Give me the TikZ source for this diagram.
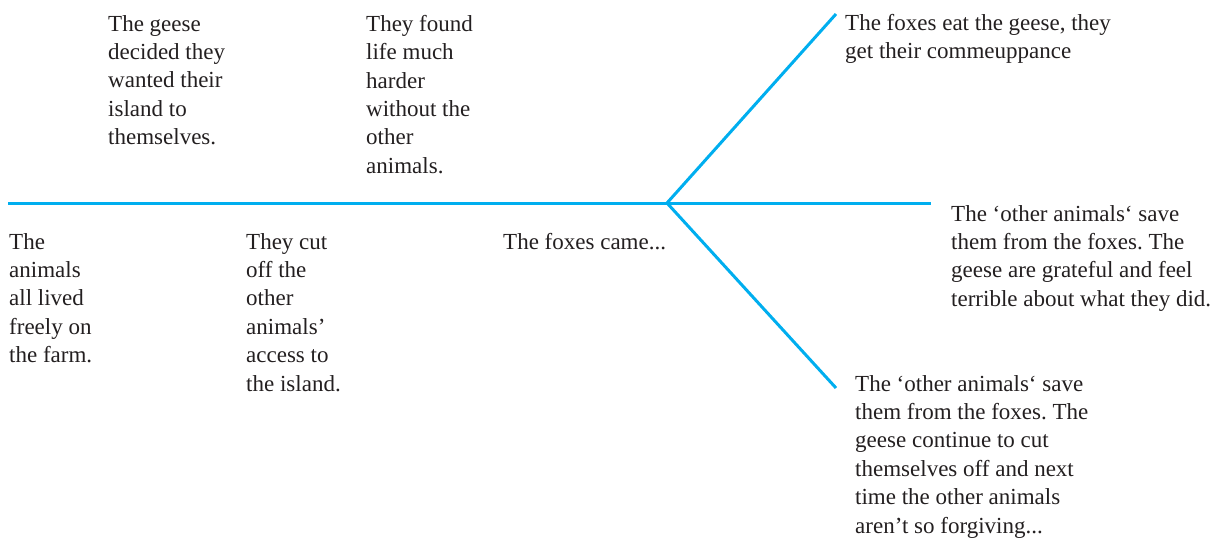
\documentclass[tikz,border=0pt]{standalone}
\usepackage{fontspec}
\setmainfont{Liberation Serif}
\frenchspacing
\usetikzlibrary{positioning}
\definecolor{Sky}{HTML}{00AEEF}
\definecolor{Ink}{HTML}{231F20}
\begin{document}
\begin{tikzpicture}[x=1pt,y=-1pt,
txt/.style={anchor=north west,inner sep=0pt,align=left,text=Ink,font=\fontsize{23}{28.4}\selectfont},
bone/.style={draw=Sky,line width=3pt}]
\useasboundingbox (0,0) rectangle (1224,546);
\coordinate (start) at (8,203);
\coordinate (fork) at (667,203);
\coordinate (topend) at (836,14);
\coordinate (midend) at (931,203);
\coordinate (lowend) at (836,388);
\draw[bone] (start)--(fork);
\draw[bone] (fork)--(topend);
\draw[bone] (fork)--(midend);
\draw[bone] (fork)--(lowend);
\node[txt] (geese) at (108,15) {The geese\\decided they\\wanted their\\island to\\themselves.};
\node[txt] (harder) at (366,15) {They found\\life much\\harder\\without the\\other\\animals.};
\node[txt] (farm) at (9,233) {The\\animals\\all lived\\freely on\\the farm.};
\node[txt] (cutoff) at (246,233) {They cut\\off the\\other\\animals’\\access to\\the island.};
\node[txt] (came) at (503,233) {The foxes came...};
\node[txt] (eaten) at (845,14) {The foxes eat the geese, they\\get their commeuppance};
\node[txt] (saved) at (951,205) {The ‘other animals‘ save\\them from the foxes. The\\geese are grateful and feel\\terrible about what they did.};
\node[txt] (forgive) at (855,375) {The ‘other animals‘ save\\them from the foxes. The\\geese continue to cut\\themselves off and next\\time the other animals\\aren’t so forgiving...};
\end{tikzpicture}
\end{document}
